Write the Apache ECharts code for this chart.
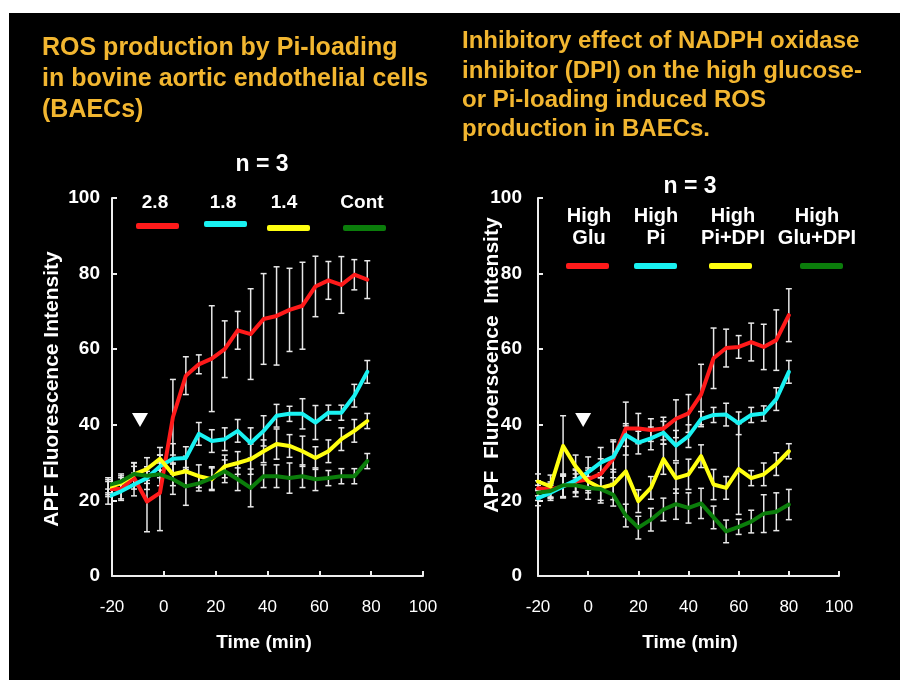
<!DOCTYPE html>
<html><head><meta charset="utf-8">
<script src="https://cdn.jsdelivr.net/npm/echarts/dist/echarts.min.js"></script>
<style>
html,body{margin:0;padding:0;background:#fff;}
#bg{position:absolute;left:9px;top:13px;width:891px;height:667px;background:#000;}
#c{position:absolute;left:0;top:0;width:906px;height:688px;}
</style>
</head><body><div id="bg"></div><div id="c"></div>
<script>
// ---------- Left panel: ROS production by Pi-loading ----------
const timesL = [-21.5,-16.5,-11.5,-6.5,-1.5,3.5,8.5,13.5,18.5,23.5,28.5,33.5,38.5,43.5,48.5,53.5,58.5,63.5,68.5,73.5,78.5];
const legendL = ['2.8','1.8','1.4','Cont'];
const pi28  = [23,23,26,19.7,22,42,53,56,57.5,60,65,64,68,68.8,70.4,71.5,76.6,78.2,77,79.7,78.4];
const pi18  = [21,22.4,24.2,25.9,29,31,31.2,37.6,35.7,36.2,38.4,35.2,38.4,42.4,42.9,42.9,40.6,43.2,43.2,47.7,54];
const pi14  = [23.5,24.5,26.9,28.3,31,26.9,27.7,26.4,25.6,29,29.9,30.9,33,34.9,34.4,33,31.2,33,36.2,38.4,41];
const contL = [24,25,27,26.5,26.9,25.6,23.7,24.5,25.9,27.7,25.6,23.3,26.4,26.4,25.9,26.4,25.6,25.9,26.4,26.4,30.4];
const err28  = [2,3,3,8,10,10,5,2.5,14,7.5,5,12,12,13,11,11.5,8,5,7.5,4,5];
const err18  = [2,2,3,3,3,4,3,3,3,3,3,4,4,3,2,4,4.5,2,2,3,3];
const err14  = [2,2,3,3,3,3,4,3,3,3,3,4,3,4,3,4,3,3,3,3,2];
const errCL  = [2,2,3,2,3,4,5,2,3,3,3,5,3,3,4,3,3,2,2,2,2];
const markerL = [[-9.2, 41.3]];

// ---------- Right panel: DPI inhibition ----------
const timesR = [-20,-15,-10,-5,0,5,10,15,20,25,30,35,40,45,50,55,60,65,70,75,80];
const legendR = ['High\nGlu','High\nPi','High\nPi+DPI','High\nGlu+DPI'];
const hiGlu    = [23.2,22.9,23.7,25,25.6,27,31,39,39,38.6,39,41.6,43,48,57.6,60.3,60.6,61.9,60.6,62.4,69];
const hiPi     = [20.6,22,23.7,25.3,27.5,30,31.5,37.3,35.3,36.4,37.9,34.5,37,41.5,42.6,42.7,40.4,42.6,43,46.8,54];
const hiPiDPI  = [25,23.7,34.4,29,25,23.3,24.2,27.7,19.8,23.3,30.9,25.9,26.9,31.7,24.2,23.3,28.3,25.9,26.9,29.6,33];
const hiGluDPI = [22,22.5,24,24,23.3,23,21.5,16,12.8,14.9,17.6,19,18,19.2,15.5,11.8,13,14.4,16.5,17,18.9];
const errGlu    = [2,2,3,3,3,4,5,7,4,3,3,5,5,8,8,5,3,5,6,8,7];
const errPi     = [2,2,3,3,4,4,4,3,3,3,3,4,3,2,2,3,3,2,2,3,3];
const errPiDPI  = [2,3,8,3,3,4,4,12,3,3,4,4,4,3,4,3,12,2,3,3,2];
const errGluDPI = [2,2,3,3,3,3,3,3,3,3,3,4,4,4,3,3,2,3,5,5,4];
const markerR = [[-2, 41.3]];

const yTicks = [0,20,40,60,80,100];
const xTicks = [-20,0,20,40,60,80,100];

const COLORS = ['#ff1a1a','#19f2f2','#ffff10','#0b7d0b'];
const FONT = '"Liberation Sans", Arial, sans-serif';
const TITLE_COLOR = '#f2b630';

function pairs(ts, vs){ return ts.map((t,i)=>[t, vs[i]]); }
function bars(ts, vs, es){ return ts.map((t,i)=>[t, vs[i]-es[i], vs[i]+es[i]]); }

function errRender(params, api){
  const x = api.value(0);
  const p1 = api.coord([x, api.value(1)]);
  const p2 = api.coord([x, api.value(2)]);
  const w = 3;
  const st = {stroke:'#e8e8e8', lineWidth:1.5};
  return {type:'group', children:[
    {type:'line', shape:{x1:p1[0],y1:p1[1],x2:p2[0],y2:p2[1]}, style:st},
    {type:'line', shape:{x1:p1[0]-w,y1:p1[1],x2:p1[0]+w,y2:p1[1]}, style:st},
    {type:'line', shape:{x1:p2[0]-w,y1:p2[1],x2:p2[0]+w,y2:p2[1]}, style:st}
  ]};
}

function xAx(idx){
  return {type:'value', gridIndex:idx, min:xTicks[0], max:xTicks[xTicks.length-1], interval:20,
    axisLine:{show:true, onZero:false, lineStyle:{color:'#eeeeee', width:2}},
    axisTick:{show:true, inside:true, length:5, lineStyle:{color:'#eeeeee', width:2}},
    axisLabel:{color:'#ffffff', fontSize:17, fontFamily:FONT, margin:23, showMinLabel:true, showMaxLabel:true},
    splitLine:{show:false}};
}
function yAx(idx, margin){
  return {type:'value', gridIndex:idx, min:yTicks[0], max:yTicks[yTicks.length-1], interval:20,
    axisLine:{show:true, onZero:false, lineStyle:{color:'#eeeeee', width:2}},
    axisTick:{show:true, inside:true, length:5, lineStyle:{color:'#eeeeee', width:2}},
    axisLabel:{color:'#ffffff', fontSize:19, fontWeight:'bold', fontFamily:FONT, margin:margin},
    splitLine:{show:false}};
}

const series = [];
function addPanel(idx, ts, vals, errs, marker){
  vals.forEach((v,k)=>{
    series.push({type:'custom', xAxisIndex:idx, yAxisIndex:idx, renderItem:errRender, clip:false, z:3,
      encode:{x:0, y:[1,2]}, data:bars(ts, v, errs[k]), silent:true});
  });
  vals.forEach((v,k)=>{
    series.push({type:'line', xAxisIndex:idx, yAxisIndex:idx, data:pairs(ts, v), symbol:'none', clip:false, z:4,
      lineStyle:{color:COLORS[k], width:4, join:'round', cap:'round'}, silent:true});
  });
  series.push({type:'scatter', xAxisIndex:idx, yAxisIndex:idx, data:marker, symbol:'triangle', symbolRotate:180,
    symbolSize:[16,14], itemStyle:{color:'#ffffff', opacity:1}, z:5, silent:true});
}
addPanel(0, timesL, [pi28, pi18, pi14, contL], [err28, err18, err14, errCL], markerL);
addPanel(1, timesR, [hiGlu, hiPi, hiPiDPI, hiGluDPI], [errGlu, errPi, errPiDPI, errGluDPI], markerR);

const graphic = [];
function txt(x, y, text, size, opts){
  graphic.push(Object.assign({type:'text', x:x, y:y, style:Object.assign({text:text, fill:'#ffffff',
    font:'bold '+size+'px '+FONT, align:'center', verticalAlign:'middle'}, (opts&&opts.style)||{})},
    (opts&&opts.el)||{}));
}
function keyBar(x, y, w, color){
  graphic.push({type:'rect', shape:{x:x, y:y, width:w, height:6, r:2}, style:{fill:color}});
}
// titles
graphic.push({type:'text', x:42, y:33, style:{text:'ROS production by Pi-loading\nin bovine aortic endothelial cells\n(BAECs)',
  fill:TITLE_COLOR, font:'bold 25px '+FONT, lineHeight:31, align:'left', verticalAlign:'top'}});
graphic.push({type:'text', x:462, y:27, style:{text:'Inhibitory effect of NADPH oxidase\ninhibitor (DPI) on the high glucose-\nor Pi-loading induced ROS\nproduction in BAECs.',
  fill:TITLE_COLOR, font:'bold 24px '+FONT, lineHeight:29.3, align:'left', verticalAlign:'top'}});
// n = 3
txt(262, 165, 'n = 3', 23);
txt(690, 187, 'n = 3', 23);
// left legend
const lgLX = [155, 223, 284, 362];
const lgLBar = [[136,223],[204,221],[267,225],[343,225]];
legendL.forEach((s,i)=>{ txt(lgLX[i], 203, s, 19); keyBar(lgLBar[i][0], lgLBar[i][1], 43, COLORS[i]); });
// right legend
const lgRX = [589, 656, 733, 817];
const lgRBar = [566, 634, 709, 800];
legendR.forEach((s,i)=>{ txt(lgRX[i], 227, s, 20, {style:{lineHeight:22}}); keyBar(lgRBar[i], 263, 43, COLORS[i]); });
// axis titles
txt(264, 643, 'Time (min)', 19);
txt(690, 643, 'Time (min)', 19);
txt(52, 389, 'APF Fluorescence Intensity', 21, {el:{rotation:Math.PI/2}});
txt(492, 365, 'APF  Fluroerscence  Intensity', 21, {el:{rotation:Math.PI/2}});

const option = {
  animation:false,
  backgroundColor:'transparent',
  grid:[{left:112, top:198, width:311, height:378}, {left:538, top:198, width:301, height:378}],
  xAxis:[xAx(0), xAx(1)],
  yAxis:[yAx(0, 12), yAx(1, 16)],
  series:series,
  graphic:graphic
};
const chart = echarts.init(document.getElementById('c'), null, {renderer:'canvas'});
chart.setOption(option);
</script>
</body></html>
